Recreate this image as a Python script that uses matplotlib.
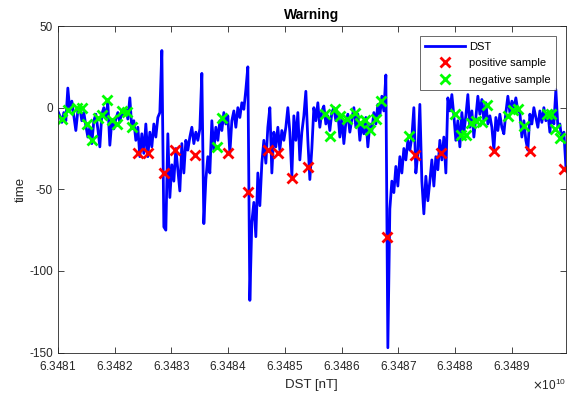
import numpy as np
import matplotlib
matplotlib.use('Agg')
import matplotlib.pyplot as plt
from matplotlib.ticker import ScalarFormatter

plt.rcParams['font.family'] = ['Liberation Sans', 'DejaVu Sans']
plt.rcParams['axes.unicode_minus'] = False

# time range of the DST record (s)
t_start = 6.3481e10
t_end = 6.348995e10

# DST values (regular time steps)
dst = [
    -2, -5, -9, -3, -8, 12, -2, 4, -5, -14,
    -2, 0, -8, -3, -11, -18, -12, -22, -8, -4,
    -13, -24, -4, 0, -6, 3, -23, -8, -13, -7,
    -3, -9, -2, -5, -1, -7, 6, -13, -8, -20,
    -12, -30, -16, -28, -10, -30, -15, -24, -10, -18,
    -6, -3, 35, -73, -75, -16, -55, -35, -45, -25,
    -38, -51, -22, -40, -20, -26, -18, -12, -22, -15,
    -20, -13, 21, -71, -44, -30, -40, -8, -26, -12,
    -20, -8, -14, -3, -10, -5, -28, -8, -2, -12,
    0, -6, 3, -1, 11, 25, -118, -70, -58, -79,
    -40, -60, -34, -20, -34, -12, 0, -40, -15, -24,
    -12, -26, -14, -20, -12, 0, -15, -42, -5, -20,
    -3, -32, -15, -5, 10, -20, -44, -25, 0, -8,
    3, -12, -2, 1, -10, -5, -14, -3, 0, -8,
    -3, -18, -6, -22, -9, -4, -15, -7, 0, -12,
    -4, -20, -10, -16, -6, -24, -10, -14, -3, -10,
    2, -5, 7, -2, 20, -147, -62, -45, -52, -36,
    -48, -30, -40, -25, -32, -20, -26, -18, 0, -40,
    -28, 2, -45, -65, -42, -57, -45, -32, -48, -30,
    -38, -20, -32, -18, -40, 6, -2, 8, -5, -20,
    -8, -24, -3, -15, -5, 8, -12, -2, -18, -6,
    7, -4, 5, -8, 3, -10, -5, -12, -26, -6,
    -14, -4, -12, -16, -3, 7, -3, 4, 0, 6,
    -2, -3, -18, -8, -20, -26, -4, -10, 0, -6,
    -12, -2, -9, 0, -8, -3, -15, -2, -10, 11,
    -12, -10, -20, -15, -36,
]

# samples: time offset from t_start (in 1e6 s) and DST value
pos_t = [1.405, 1.592, 1.874, 2.062, 2.415, 3.001, 3.343, 3.706, 3.871,
         4.128, 4.41, 5.801, 6.289, 6.742, 7.681, 8.314, 8.913]
pos_v = [-27.9, -27.6, -40.2, -25.9, -29, -27.6, -51.8, -25.9, -27.6,
         -43.3, -36.2, -79.4, -29, -27.6, -26.3, -26.3, -37.8]

neg_t = [0.067, 0.183, 0.331, 0.419, 0.507, 0.595, 0.712, 0.782, 0.859,
         0.947, 1.036, 1.124, 1.212, 1.30, 2.797, 2.885, 4.704, 4.792,
         4.88, 4.968, 5.086, 5.232, 5.32, 5.408, 5.497, 5.597, 5.685,
         6.189, 6.994, 7.094, 7.188, 7.27, 7.364, 7.464, 7.552, 7.932,
         8.02, 8.108, 8.209, 8.609, 8.684, 8.755, 8.855]
neg_v = [-6.9, -1.4, 0, 0, -10, -20, -6.5, -4.5, 4.7,
         -7.5, -10, -1.8, -2.5, -11.6, -23.9, -6.5, -3.9, -17.3,
         -0.8, -5.1, -7.1, -3.4, -9.2, -7.5, -13.7, -7.1, 4.3,
         -17.3, -3.9, -16.7, -16.7, -9.6, -8, -8.6, 1.7, -5.1,
         -1.4, -1, -11.2, -3.9, -3.9, -13.2, -18.8]

t = np.linspace(t_start, t_end, len(dst))
pos_x = t_start + np.array(pos_t) * 1e6
neg_x = t_start + np.array(neg_t) * 1e6

fig = plt.figure(figsize=(5.67, 3.94), dpi=100)
ax = fig.add_axes([0.102, 0.105, 0.896, 0.829])

ax.plot(t, dst, color=(0, 0, 1), linewidth=2, label='DST')
ax.plot(pos_x, pos_v, 'x', color=(1, 0, 0), markersize=7, markeredgewidth=2,
        label='positive sample')
ax.plot(neg_x, neg_v, 'x', color=(0, 1, 0), markersize=7, markeredgewidth=2,
        label='negative sample')

ax.set_xlim(t_start, t_end)
ax.set_ylim(-150, 50)
ax.set_xticks(np.arange(6.3481e10, 6.34895e10, 1e6))
ax.set_yticks([-150, -100, -50, 0, 50])

fmt = ScalarFormatter(useMathText=True, useOffset=False)
fmt.set_scientific(True)
fmt.set_powerlimits((-3, 3))
ax.xaxis.set_major_formatter(fmt)

grey = (0.15, 0.15, 0.15)
ax.tick_params(direction='in', top=True, right=True, labelsize=8.5,
               colors=grey, length=4, width=0.6)
ax.tick_params(axis='x', pad=5.5)
for s in ax.spines.values():
    s.set_color(grey)
    s.set_linewidth(0.6)
ax.xaxis.get_offset_text().set_fontsize(8.5)
ax.xaxis.get_offset_text().set_color(grey)

ax.set_title('Warning', fontsize=10, fontweight='bold', pad=5)
ax.set_xlabel('DST [nT]', fontsize=9.5, color=grey, labelpad=4)
ax.set_ylabel('time', fontsize=9.5, color=grey, labelpad=2)

leg = ax.legend(loc='upper right', fontsize=8, frameon=True, fancybox=False,
                edgecolor=grey, borderaxespad=0.9, handlelength=3.6,
                handletextpad=0.3, borderpad=0.5, labelspacing=0.6)
leg.get_frame().set_linewidth(0.6)

plt.savefig('out.png', dpi=100)
